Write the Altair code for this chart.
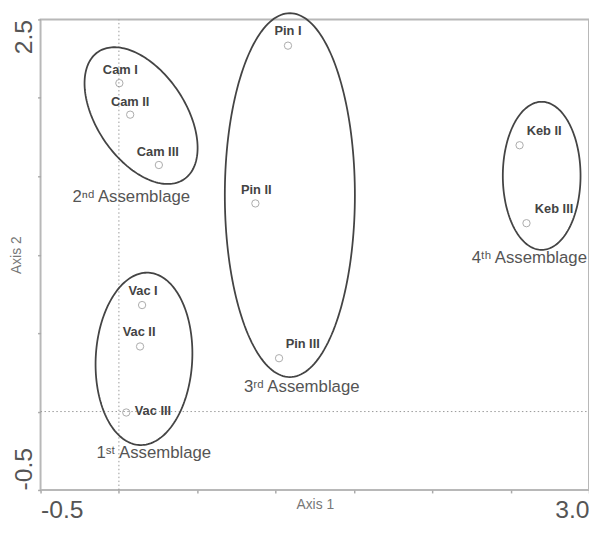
import altair as alt
import numpy as np
import pandas as pd

# ---- data (Axis 1 / Axis 2 units) ----
site_names = ["Cam I", "Cam II", "Cam III", "Pin I", "Pin II", "Pin III",
              "Keb II", "Keb III", "Vac I", "Vac II", "Vac III"]
axis1 = [0.003, 0.072, 0.255, 1.079, 0.871, 1.022, 2.557, 2.601, 0.148, 0.135, 0.047]
axis2 = [2.094, 1.893, 1.572, 2.333, 1.327, 0.340, 1.698, 1.201, 0.679, 0.415, -0.006]

# label anchor positions (data units)
label_x = [0.009, 0.072, 0.248, 1.079, 0.877, 1.173, 2.714, 2.777, 0.154, 0.129, 0.217]
label_y = [2.176, 1.975, 1.654, 2.428, 1.415, 0.428, 1.786, 1.289, 0.767, 0.509, 0.006]

# assemblage groups: ellipse centre, semi-axes, rotation (deg), label
group_names = ["1ˢᵗ Assemblage", "2ⁿᵈ Assemblage", "3ʳᵈ Assemblage", "4ᵗʰ Assemblage"]
ell_cx = [0.160, 0.1415, 1.091, 2.698]
ell_cy = [0.336, 1.887, 1.380, 1.503]
ell_a = [0.550, 0.490, 1.160, 0.472]
ell_b = [0.308, 0.283, 0.415, 0.248]
ell_rot = [87.0, -56.0, 90.0, 90.0]
group_label_x = [0.223, 0.079, 1.167, 2.619]
group_label_y = [-0.264, 1.365, 0.157, 0.981]

x_ticks = [-0.5, 0.0, 0.5, 1.0, 1.5, 2.0, 2.5, 3.0]
x_tick_labels = ["-0.5", "", "", "", "", "", "", "3.0"]
y_ticks = [-0.5, 0.0, 0.5, 1.0, 1.5, 2.0, 2.5]
y_tick_labels = ["-0.5", "", "", "", "", "", "2.5"]

x_domain = [-0.5, 3.0]
y_domain = [-0.5, 2.5]


def label_expr(values, labels):
    parts = []
    for v, l in zip(values, labels):
        if l:
            parts.append(f"abs(datum.value - ({v})) < 1e-6 ? '{l}'")
    return " : ".join(parts) + " : ''"


# ---- tables ----
pts = pd.DataFrame({"x": axis1, "y": axis2, "name": site_names})
lbl = pd.DataFrame({"x": label_x, "y": label_y, "name": site_names})
glbl = pd.DataFrame({"x": group_label_x, "y": group_label_y, "name": group_names})

rows = []
t = np.linspace(0, 2 * np.pi, 181)
for g, cx, cy, a, b, r in zip(group_names, ell_cx, ell_cy, ell_a, ell_b, ell_rot):
    th = np.deg2rad(r)
    ex = cx + a * np.cos(t) * np.cos(th) - b * np.sin(t) * np.sin(th)
    ey = cy + a * np.cos(t) * np.sin(th) + b * np.sin(t) * np.cos(th)
    for i, (xx, yy) in enumerate(zip(ex, ey)):
        rows.append({"x": xx, "y": yy, "group": g, "order": i})
ell = pd.DataFrame(rows)

refs = pd.DataFrame({"x": [0.0, x_domain[0]], "x2": [0.0, x_domain[1]],
                     "y": [y_domain[0], 0.0], "y2": [y_domain[1], 0.0]})

FONT = "Liberation Sans"

xscale = alt.Scale(domain=x_domain, nice=False, zero=False)
yscale = alt.Scale(domain=y_domain, nice=False, zero=False)

x_axis = alt.Axis(values=x_ticks, labelExpr=label_expr(x_ticks, x_tick_labels),
                  labelFontSize=25, labelColor="#555555", labelFont=FONT,
                  labelFlush=True, labelOverlap=False, labelPadding=5,
                  tickSize=3, tickColor="#aaaaaa", tickWidth=1.5,
                  domain=False, grid=False,
                  title="Axis 1", titleFont=FONT, titleFontSize=14,
                  titleColor="#777777", titleFontWeight="normal",
                  titleY=15, titleBaseline="middle")
y_axis = alt.Axis(values=y_ticks, labelExpr=label_expr(y_ticks, y_tick_labels),
                  labelFontSize=25, labelColor="#555555", labelFont=FONT,
                  labelAngle=270,
                  labelAlign={"condition": {"test": "datum.value > 1", "value": "right"},
                              "value": "left"},
                  labelBaseline="bottom", labelFlush=False, labelOverlap=False,
                  labelPadding=1,
                  tickSize=3, tickColor="#aaaaaa", tickWidth=1.5,
                  domain=False, grid=False,
                  title="Axis 2", titleFont=FONT, titleFontSize=14,
                  titleColor="#777777", titleFontWeight="normal",
                  titleX=-24, titleBaseline="middle")

X = alt.X("x:Q", scale=xscale, axis=x_axis)
Y = alt.Y("y:Q", scale=yscale, axis=y_axis)

ref_layer = alt.Chart(refs).mark_rule(color="#999999", strokeWidth=1,
                                      strokeDash=[1.5, 2.5]).encode(
    x=X, x2="x2:Q", y=Y, y2="y2:Q")

ell_layer = alt.Chart(ell).mark_line(color="#444444", strokeWidth=1.8).encode(
    x=X, y=Y, detail="group:N", order="order:Q")

pt_layer = alt.Chart(pts).mark_point(shape="circle", filled=False, size=55,
                                     color="#888888", strokeWidth=1).encode(x=X, y=Y)

lbl_layer = alt.Chart(lbl).mark_text(font=FONT, fontSize=13, fontWeight="bold",
                                     color="#444444", baseline="middle",
                                     align="center").encode(x=X, y=Y, text="name:N")

glbl_layer = alt.Chart(glbl).mark_text(font=FONT, fontSize=17, color="#555555",
                                       baseline="middle", align="center").encode(
    x=X, y=Y, text="name:N")

chart = alt.layer(ref_layer, ell_layer, pt_layer, lbl_layer, glbl_layer).properties(
    width=556, height=477,
    autosize=alt.AutoSizeParams(type="none"),
    padding={"left": 33, "top": 8, "right": 0, "bottom": 40},
    background="white",
).configure_view(stroke="#b8b8b8", strokeWidth=2)

chart.save("out.html", embed_options={"renderer": "svg", "actions": False})
